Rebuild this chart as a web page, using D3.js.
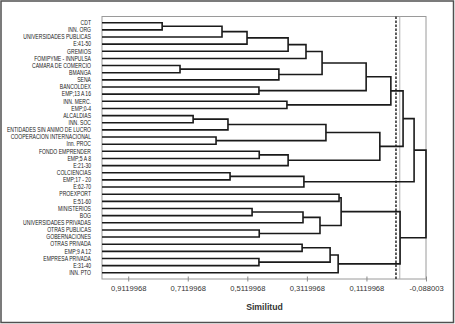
<!DOCTYPE html>
<html>
<head>
<meta charset="utf-8">
<script src="https://cdn.jsdelivr.net/npm/d3@7"></script>
<style>
	body { margin: 0; background: #fff; }
	svg { display: block; }
</style>
</head>
<body>
<script>
// leaf labels, top to bottom
const leaves = [
	"CDT", "INN. ORG", "UNIVERSIDADES PUBLICAS", "E:41-50", "GREMIOS",
	"FOMIPYME - INNPULSA", "CAMARA DE COMERCIO", "BMANGA", "SENA", "BANCOLDEX",
	"EMP;13 A 16", "INN. MERC.", "EMP;0-4", "ALCALDIAS", "INN. SOC",
	"ENTIDADES SIN ANIMO DE LUCRO", "COOPERACION INTERNACIONAL", "Inn. PROC",
	"FONDO EMPRENDER", "EMP;5 A 8", "E:21-30", "COLCIENCIAS", "EMP;17 - 20",
	"E:62-70", "PROEXPORT", "E:51-60", "MINISTERIOS", "BOG",
	"UNIVERSIDADES PRIVADAS", "OTRAS PUBLICAS", "GOBERNACIONES", "OTRAS PRIVADA",
	"EMP;9 A 12", "EMPRESA PRIVADA", "E:31-40", "INN. PTO"
];

// linkage: [left, right] - ids < 36 are leaves, id 36+i is merge i
const mergePairs = [
	[0, 1], [36, 2], [37, 3], [38, 4], [39, 5], [6, 7], [41, 8], [40, 42],
	[9, 10], [43, 44], [11, 12], [45, 46], [13, 14], [48, 15], [16, 17],
	[49, 50], [18, 19], [52, 20], [51, 53], [47, 54], [21, 22], [56, 23],
	[55, 57], [26, 27], [59, 28], [29, 30], [60, 61], [24, 25], [63, 62],
	[31, 32], [33, 34], [65, 66], [67, 35], [64, 68], [58, 69]
];
// similarity level of each merge
const mergeLevels = [
	0.798, 0.597, 0.513, 0.375, 0.315, 0.738, 0.406, 0.261,
	0.473, 0.113, 0.379, 0.030, 0.694, 0.577, 0.617,
	0.248, 0.472, 0.375, 0.067, -0.011, 0.570, 0.322,
	-0.048, 0.496, 0.325, 0.472, 0.268, 0.204, 0.197,
	0.328, 0.473, 0.234, 0.207, -0.001, -0.088003
];

const tickValues = [0.9119968, 0.7119968, 0.5119968, 0.3119968, 0.1119968, -0.088003];
const tickLabels = ["0,9119968", "0,7119968", "0,5119968", "0,3119968", "0,1119968", "-0,088003"];
const cutLevel = 0.0128;
const zeroLevel = 0.0;

const width = 455, height = 324;
const plot = {left: 102, right: 426, top: 16.5, bottom: 279};

let svg = d3.select('body')
	.append('svg')
	.attr("width", width)
	.attr("height", height);

// outer frame
svg.append("rect")
	.attr("x", 1).attr("y", 1)
	.attr("width", width - 2.5).attr("height", height - 2.5)
	.attr("fill", "white")
	.attr("stroke", "#505050")
	.attr("stroke-width", 1.5);

//scales
const x = d3.scaleLinear()
	.domain([1.0, -0.088003])
	.range([plot.left, plot.right]);

const y = d3.scalePoint()
	.domain(leaves)
	.range([22.7, 272.8]);

// node positions
const nodeX = [], nodeY = [];
leaves.forEach((l, i) => { nodeX[i] = x(1.0); nodeY[i] = y(l); });
mergePairs.forEach((p, i) => {
	const id = leaves.length + i;
	nodeX[id] = x(mergeLevels[i]);
	nodeY[id] = (nodeY[p[0]] + nodeY[p[1]]) / 2;
});

// plot area border
svg.append("rect")
	.attr("x", plot.left).attr("y", plot.top)
	.attr("width", plot.right - plot.left).attr("height", plot.bottom - plot.top)
	.attr("fill", "none")
	.attr("stroke", "#9a9a9a")
	.attr("stroke-width", 1);

// cut lines
svg.append("line")
	.attr("x1", x(zeroLevel)).attr("x2", x(zeroLevel))
	.attr("y1", plot.top).attr("y2", plot.bottom)
	.attr("stroke", "#b0b0b0")
	.attr("stroke-width", 1);

svg.append("line")
	.attr("x1", x(cutLevel)).attr("x2", x(cutLevel))
	.attr("y1", plot.top).attr("y2", plot.bottom)
	.attr("stroke", "#333")
	.attr("stroke-width", 1.6)
	.attr("stroke-dasharray", "2.5,1.5");

// dendrogram links
const links = svg.append("g")
	.attr("fill", "none")
	.attr("stroke", "#1a1a1a")
	.attr("stroke-width", 1.6)
	.attr("stroke-linejoin", "miter");

links.selectAll("path")
	.data(mergePairs)
	.join("path")
	.attr("d", (p, i) => {
		const id = leaves.length + i;
		const mx = nodeX[id];
		const a = p[0], b = p[1];
		return `M${nodeX[a]},${nodeY[a]}H${mx}V${nodeY[b]}H${nodeX[b]}`;
	});

// x axis
const xAxis = d3.axisBottom(x)
	.tickValues(tickValues)
	.tickFormat((d, i) => tickLabels[i])
	.tickSize(0);

let xAxisGroup = svg.append("g")
	.attr("transform", `translate(0,${plot.bottom})`)
	.call(xAxis)
	.call(g => g.select(".domain").remove());

xAxisGroup.selectAll(".tick").append("line")
	.attr("y1", -2.5).attr("y2", 2.5)
	.attr("stroke", "#8a8a8a");

xAxisGroup.selectAll(".tick text")
	.attr("y", 12)
	.attr("dy", 0)
	.attr("font-family", "'Liberation Sans', Arial, sans-serif")
	.attr("font-size", 7.6)
	.attr("fill", "#333");

svg.append("text")
	.attr("x", 264.5)
	.attr("y", 309.5)
	.attr("text-anchor", "middle")
	.attr("font-family", "'Liberation Sans', Arial, sans-serif")
	.attr("font-weight", "bold")
	.attr("font-size", 8.7)
	.attr("fill", "#333")
	.text("Similitud");

// leaf labels (condensed horizontally, like the narrow font of the original)
svg.append("g")
	.attr("transform", "translate(91,0) scale(0.78,1)")
	.attr("font-family", "'Liberation Sans', sans-serif")
	.attr("font-size", 6.5)
	.attr("fill", "#222")
	.attr("text-anchor", "end")
	.selectAll("text")
	.data(leaves)
	.join("text")
	.attr("x", 0)
	.attr("y", d => y(d))
	.attr("dy", "0.35em")
	.text(d => d);
</script>
</body>
</html>
